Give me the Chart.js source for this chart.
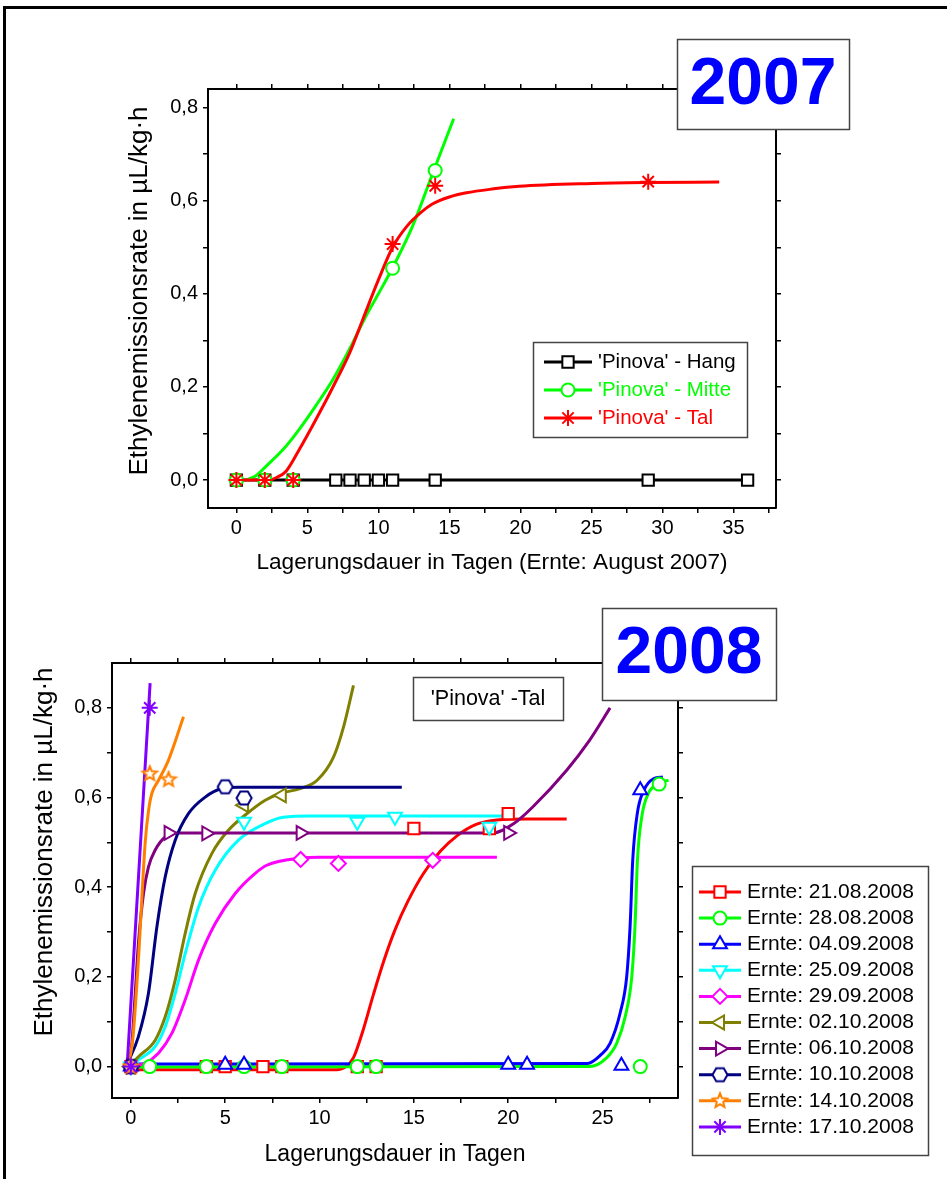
<!DOCTYPE html>
<html>
<head>
<meta charset="utf-8">
<script src="https://cdn.jsdelivr.net/npm/chart.js@4.4.1/dist/chart.umd.min.js"></script>
<style>
  html, body { margin:0; padding:0; background:#fff; width:947px; height:1179px; overflow:hidden; }
  #rahmen { position:absolute; left:3px; top:6px; width:1000px; height:1300px; border-left:3px solid #000; border-top:3px solid #000; }
  canvas { position:absolute; left:0; }
</style>
</head>
<body>
<div id="rahmen"></div>
<canvas id="c2007" width="947" height="600" style="top:0"></canvas>
<canvas id="c2008" width="947" height="589" style="top:590px"></canvas>
<script>
// ─── Daten 2007 ──────────────────────────────────────────
const tage07Hang  = [0, 2, 4, 7, 8, 9, 10, 11, 14, 29, 36];
const rate07Hang  = [0, 0, 0, 0, 0, 0, 0, 0, 0, 0, 0];
const tage07Mitte = [0, 2, 4, 11, 14];
const rate07Mitte = [0, 0, 0, 0.455, 0.665];
const tage07Tal   = [0, 2, 4, 11, 14, 29];
const rate07Tal   = [0, 0, 0, 0.507, 0.632, 0.641];
// Fitkurven
const fit07MitteX = [0.7, 1.4, 2.1, 3.3, 4.4, 5.6, 6.8, 8.0, 9.0, 10.0, 11.0, 12.4, 13.9, 15.3];
const fit07MitteY = [0, 0.01, 0.03, 0.066, 0.108, 0.16, 0.216, 0.283, 0.345, 0.4, 0.456, 0.545, 0.665, 0.776];
const fit07TalX   = [0, 2.2, 2.8, 3.5, 4.4, 5.6, 6.8, 8.0, 8.9, 10.0, 11.0, 12.0, 13.0, 13.8, 15.0, 16.2, 18.0, 19.9, 25, 29, 34];
const fit07TalY   = [0, 0, 0.005, 0.019, 0.064, 0.13, 0.2, 0.275, 0.345, 0.43, 0.5, 0.545, 0.575, 0.593, 0.608, 0.617, 0.625, 0.631, 0.637, 0.639, 0.64];
const legende07   = ["'Pinova' - Hang", "'Pinova' - Mitte", "'Pinova' - Tal"];

// Achsen-Ticks
const xMajor07 = [0, 5, 10, 15, 20, 25, 30, 35];
const xMinor07 = [2.5, 7.5, 12.5, 17.5, 22.5, 27.5, 32.5, 37.5];
const xMajor08 = [0, 5, 10, 15, 20, 25];
const xMinor08 = [2.5, 7.5, 12.5, 17.5, 22.5, 27.5];
const yMajor   = [0, 0.2, 0.4, 0.6, 0.8];
const yMinor   = [0.1, 0.3, 0.5, 0.7];

// ─── Daten 2008 ('Pinova' - Tal) ─────────────────────────
const tage2108 = [0, 4, 5, 7, 8, 12, 13, 15, 19, 20];
const rate2108 = [0, 0, 0, 0, 0, 0, 0, 0.531, 0.531, 0.564];
const fit2108X = [-0.2, 10.9, 11.4, 11.8, 12.3, 12.85, 13.4, 14.0, 14.7, 15.5, 16.4, 17.3, 18.3, 19.4, 21.0, 23.1];
const fit2108Y = [-0.007, -0.007, 0.0, 0.02, 0.08, 0.16, 0.235, 0.305, 0.37, 0.43, 0.48, 0.515, 0.54, 0.55, 0.552, 0.552];

const tage2808 = [0, 1, 4, 6, 8, 12, 13, 27, 28];
const rate2808 = [0, 0, 0, 0, 0, 0, 0, 0, 0.63];
const fit2808X = [-0.3, 24.3, 25.2, 25.75, 26.2, 26.55, 26.72, 26.85, 27.08, 27.43, 27.96, 28.5];
const fit2808Y = [-0.001, 0, 0.019, 0.052, 0.111, 0.2, 0.312, 0.46, 0.557, 0.609, 0.631, 0.639];

const tage0409 = [0, 5, 6, 20, 21, 26, 27];
const rate0409 = [0, 0.004, 0.004, 0.004, 0.004, 0.002, 0.616];
const fit0409X = [-0.3, 24.2, 24.9, 25.4, 25.93, 26.28, 26.46, 26.6, 26.84, 27.19, 27.7, 28.2];
const fit0409Y = [0.006, 0.007, 0.026, 0.052, 0.119, 0.2, 0.312, 0.46, 0.564, 0.616, 0.642, 0.646];

const tage2509 = [0, 6, 12, 14, 19];
const rate2509 = [0, 0.546, 0.546, 0.557, 0.535];
const fit2509X = [-0.1, 0.4, 1.29, 1.82, 2.35, 2.88, 3.59, 4.47, 5.7, 7.12, 8.09, 9.5, 20.1];
const fit2509Y = [0, 0.015, 0.045, 0.089, 0.163, 0.252, 0.356, 0.438, 0.505, 0.542, 0.556, 0.559, 0.559];

const tage2909 = [0, 9, 11, 16];
const rate2909 = [0, 0.462, 0.453, 0.46];
const fit2909X = [-0.1, 0.76, 1.46, 2.17, 2.88, 3.59, 4.47, 5.53, 6.59, 7.2, 8.97, 10.0, 19.4];
const fit2909Y = [0, 0.008, 0.03, 0.074, 0.149, 0.238, 0.319, 0.386, 0.431, 0.449, 0.465, 0.467, 0.467];

const tage0210 = [0, 6, 8];
const rate0210 = [0, 0.583, 0.605];
const fit0210X = [-0.1, 0.4, 1.29, 1.82, 2.35, 2.88, 3.41, 4.29, 5.17, 6.06, 7.12, 7.91, 8.97, 9.86, 10.74, 11.27, 11.8];
const fit0210Y = [0, 0.022, 0.059, 0.111, 0.193, 0.297, 0.386, 0.475, 0.527, 0.561, 0.594, 0.609, 0.62, 0.638, 0.69, 0.757, 0.85];

const tage0610 = [0, 2, 4, 9, 20];
const rate0610 = [0, 0.521, 0.52, 0.521, 0.521];
const fit0610X = [-0.1, 0.05, 0.23, 0.4, 0.67, 0.93, 1.29, 1.82, 2.52, 19.2, 20.3, 21.3, 23.1, 24.3, 25.4];
const fit0610Y = [0, 0.05, 0.163, 0.275, 0.386, 0.445, 0.483, 0.512, 0.521, 0.521, 0.542, 0.579, 0.661, 0.727, 0.80];

const tage1010 = [0, 5, 6];
const rate1010 = [0, 0.624, 0.599];
const fit1010X = [-0.2, 0.4, 0.93, 1.38, 1.82, 2.35, 3.05, 3.94, 4.82, 5.7, 14.36];
const fit1010Y = [0.005, 0.067, 0.163, 0.312, 0.423, 0.505, 0.564, 0.601, 0.62, 0.623, 0.623];

const tage1410 = [0, 1, 2];
const rate1410 = [0, 0.653, 0.64];
const fit1410X = [-0.15, 0.1, 0.4, 0.76, 0.95, 1.11, 1.46, 1.99, 2.79];
const fit1410Y = [0, 0.06, 0.238, 0.5, 0.575, 0.609, 0.638, 0.683, 0.78];

const tage1710 = [0, 1];
const rate1710 = [0, 0.80];
const fit1710X = [-0.2, 0.2, 0.6, 1.02];
const fit1710Y = [0, 0.28, 0.56, 0.855];

const ernteLabels = ['Ernte: 21.08.2008', 'Ernte: 28.08.2008', 'Ernte: 04.09.2008', 'Ernte: 25.09.2008', 'Ernte: 29.09.2008',
                     'Ernte: 02.10.2008', 'Ernte: 06.10.2008', 'Ernte: 10.10.2008', 'Ernte: 14.10.2008', 'Ernte: 17.10.2008'];

// ─── Stil ────────────────────────────────────────────────
const FONT = "'Liberation Sans', Arial, Helvetica, sans-serif";
Chart.defaults.font.family = FONT;
Chart.defaults.font.size = 20;
Chart.defaults.color = '#000';

const ernteFarben = ['#ff0000', '#00ff00', '#0000ff', '#00ffff', '#ff00ff', '#808000', '#800080', '#000080', '#ff8000', '#8000ff'];

function eigenerMarker(art, farbe, r) {
  const s = Math.ceil(r * 2 + 5), c = document.createElement('canvas');
  c.width = c.height = s;
  const g = c.getContext('2d');
  g.strokeStyle = farbe; g.fillStyle = '#fff'; g.lineWidth = 2;
  g.beginPath();
  const m = s / 2;
  if (art === 'hexagon') {
    for (let i = 0; i < 6; i++) { const a = Math.PI / 3 * i; g.lineTo(m + r * Math.cos(a), m + r * Math.sin(a)); }
  } else {
    for (let i = 0; i < 10; i++) { const a = -Math.PI / 2 + Math.PI / 5 * i, rr = i % 2 ? r * 0.45 : r; g.lineTo(m + rr * Math.cos(a), m + rr * Math.sin(a)); }
  }
  g.closePath(); g.fill(); g.stroke();
  return c;
}

const ernteMarker = [
  { style: 'rect', radius: 8, rot: 0 },
  { style: 'circle', radius: 6.5, rot: 0 },
  { style: 'triangle', radius: 8, rot: 0 },
  { style: 'triangle', radius: 8, rot: 180 },
  { style: 'rectRot', radius: 7.5, rot: 0 },
  { style: 'triangle', radius: 8, rot: 270 },
  { style: 'triangle', radius: 8, rot: 90 },
  { style: eigenerMarker('hexagon', '#000080', 7.5), radius: 7.5, rot: 0 },
  { style: eigenerMarker('stern', '#ff8000', 7.5), radius: 7.5, rot: 0 },
  { style: 'star', radius: 8, rot: 0 }
];

const serien08 = [
  [tage2108, rate2108, fit2108X, fit2108Y],
  [tage2808, rate2808, fit2808X, fit2808Y],
  [tage0409, rate0409, fit0409X, fit0409Y],
  [tage2509, rate2509, fit2509X, fit2509Y],
  [tage2909, rate2909, fit2909X, fit2909Y],
  [tage0210, rate0210, fit0210X, fit0210Y],
  [tage0610, rate0610, fit0610X, fit0610Y],
  [tage1010, rate1010, fit1010X, fit1010Y],
  [tage1410, rate1410, fit1410X, fit1410Y],
  [tage1710, rate1710, fit1710X, fit1710Y]
];

const pts = (xs, ys) => xs.map((x, i) => ({ x, y: ys[i] }));
const fmtY = v => v.toFixed(1).replace('.', ',');

function achse(pos, min, max, major, minor, groesse, beschriften) {
  return {
    type: 'linear', position: pos, min, max,
    grid: { drawOnChartArea: false, drawTicks: true, tickLength: 5, color: '#000', lineWidth: 1.5 },
    border: { display: true, color: '#000', width: 2 },
    ticks: {
      autoSkip: false, maxRotation: 0, padding: pos === 'left' ? 5 : 3, color: '#000', font: { size: 20 },
      callback: v => (beschriften && major.includes(v)) ? beschriften(v) : ''
    },
    afterBuildTicks: s => { s.ticks = major.concat(minor).sort((a, b) => a - b).map(v => ({ value: v })); },
    afterFit: s => { if (s.isHorizontal()) s.height = groesse; else s.width = groesse; }
  };
}

function skalen(xmin, xmax, ymin, ymax, xMaj, xMin) {
  return {
    x:  achse('bottom', xmin, xmax, xMaj, xMin, 40, v => String(v)),
    x2: achse('top', xmin, xmax, xMaj, xMin, 8, null),
    y:  achse('left', ymin, ymax, yMajor, yMinor, 60, fmtY),
    y2: achse('right', ymin, ymax, yMajor, yMinor, 8, null)
  };
}

function text(ctx, str, x, y, size, farbe, opts = {}) {
  ctx.save();
  ctx.font = (opts.bold ? 'bold ' : '') + size + 'px ' + FONT;
  ctx.fillStyle = farbe;
  ctx.textAlign = opts.align || 'center';
  ctx.textBaseline = 'middle';
  ctx.translate(x, y);
  if (opts.rot) ctx.rotate(opts.rot);
  ctx.fillText(str, 0, 0);
  ctx.restore();
}

function kasten(ctx, x1, y1, x2, y2) {
  ctx.save();
  ctx.fillStyle = '#fff';
  ctx.fillRect(x1, y1, x2 - x1, y2 - y1);
  ctx.strokeStyle = '#444'; ctx.lineWidth = 1.5;
  ctx.strokeRect(x1 + 0.5, y1 + 0.5, x2 - x1, y2 - y1);
  ctx.restore();
}

function legendenZeile(ctx, x1, x2, y, farbe, m, label, textFarbe, groesse) {
  ctx.save();
  ctx.strokeStyle = farbe; ctx.lineWidth = 3;
  ctx.beginPath(); ctx.moveTo(x1, y); ctx.lineTo(x2, y); ctx.stroke();
  ctx.fillStyle = '#fff'; ctx.strokeStyle = farbe; ctx.lineWidth = 2;
  Chart.helpers.drawPoint(ctx, { pointStyle: m.style, radius: m.radius, rotation: m.rot, borderWidth: 2 }, (x1 + x2) / 2, y);
  ctx.restore();
  text(ctx, label, x2 + 6, y, groesse, textFarbe, { align: 'left' });
}

// ─── Diagramm 2007 ───────────────────────────────────────
const marker07 = [
  { style: 'rect', radius: 8, rot: 0 },
  { style: 'circle', radius: 6.5, rot: 0 },
  { style: 'star', radius: 8, rot: 0 }
];
const farben07 = ['#000000', '#00ff00', '#ff0000'];

new Chart(document.getElementById('c2007'), {
  type: 'line',
  data: {
    datasets: [
      { data: pts(tage07Hang, rate07Hang), borderColor: farben07[0], borderWidth: 3, tension: 0,
        pointStyle: marker07[0].style, pointRadius: marker07[0].radius, pointBorderColor: farben07[0],
        pointBackgroundColor: '#fff', pointBorderWidth: 2, order: 6 },
      { data: pts(fit07MitteX, fit07MitteY), borderColor: farben07[1], borderWidth: 3, pointRadius: 0,
        cubicInterpolationMode: 'monotone', order: 5 },
      { data: pts(fit07TalX, fit07TalY), borderColor: farben07[2], borderWidth: 3, pointRadius: 0,
        cubicInterpolationMode: 'monotone', order: 4 },
      { data: pts(tage07Mitte, rate07Mitte), showLine: false, pointStyle: marker07[1].style, pointRadius: marker07[1].radius,
        pointBorderColor: farben07[1], pointBackgroundColor: '#fff', pointBorderWidth: 2, order: 2 },
      { data: pts(tage07Tal, rate07Tal), showLine: false, pointStyle: marker07[2].style, pointRadius: marker07[2].radius,
        pointBorderColor: farben07[2], pointBackgroundColor: '#fff', pointBorderWidth: 2, order: 1 }
    ]
  },
  options: {
    responsive: false, animation: false, devicePixelRatio: 1,
    layout: { padding: { left: 148, top: 81, right: 163, bottom: 52 } },
    plugins: { legend: { display: false }, tooltip: { enabled: false } },
    scales: skalen(-2, 38, -0.06, 0.84, xMajor07, xMinor07)
  },
  plugins: [{
    id: 'deko2007',
    afterDraw(chart) {
      const ctx = chart.ctx;
      text(ctx, 'Ethylenemissionsrate in µL/kg·h', 140, 291, 26, '#000', { rot: -Math.PI / 2 });
      text(ctx, 'Lagerungsdauer in Tagen (Ernte: August 2007)', 492, 563, 22.6, '#000');
      kasten(ctx, 533, 342, 747, 437);
      legende07.forEach((l, i) => legendenZeile(ctx, 544, 592, 362 + 28 * i, farben07[i], marker07[i], l, farben07[i], 20.5));
      kasten(ctx, 677, 39, 849, 129);
      text(ctx, '2007', 763, 86, 66, '#0000ff', { bold: true });
    }
  }]
});

// ─── Diagramm 2008 ───────────────────────────────────────
const datasets08 = [];
serien08.forEach((s, i) => {
  datasets08.push({ data: pts(s[2], s[3]), borderColor: ernteFarben[i], borderWidth: 3, pointRadius: 0,
    cubicInterpolationMode: 'monotone', order: 30 - i });
  datasets08.push({ data: pts(s[0], s[1]), showLine: false, pointStyle: ernteMarker[i].style,
    pointRadius: ernteMarker[i].radius, pointRotation: ernteMarker[i].rot,
    pointBorderColor: ernteFarben[i], pointBackgroundColor: '#fff', pointBorderWidth: 2, order: 10 - i });
});

new Chart(document.getElementById('c2008'), {
  type: 'line',
  data: { datasets: datasets08 },
  options: {
    responsive: false, animation: false, devicePixelRatio: 1,
    layout: { padding: { left: 52, top: 65, right: 261, bottom: 41 } },
    plugins: { legend: { display: false }, tooltip: { enabled: false } },
    scales: skalen(-1, 29, -0.07, 0.9, xMajor08, xMinor08)
  },
  plugins: [{
    id: 'deko2008',
    afterDraw(chart) {
      const ctx = chart.ctx;
      text(ctx, 'Ethylenemissionsrate in µL/kg·h', 45, 262, 26, '#000', { rot: -Math.PI / 2 });
      text(ctx, 'Lagerungsdauer in Tagen', 395, 565, 23, '#000');
      kasten(ctx, 413, 87, 563, 130);
      text(ctx, "'Pinova' -Tal", 488, 109, 21.5, '#000');
      kasten(ctx, 692, 276, 928, 565);
      ernteLabels.forEach((l, i) => legendenZeile(ctx, 699, 741, 302 + 26.1 * i, ernteFarben[i], ernteMarker[i], l, '#000', 21));
      kasten(ctx, 602, 18, 776, 110);
      text(ctx, '2008', 689, 65, 66, '#0000ff', { bold: true });
    }
  }]
});
</script>
</body>
</html>
